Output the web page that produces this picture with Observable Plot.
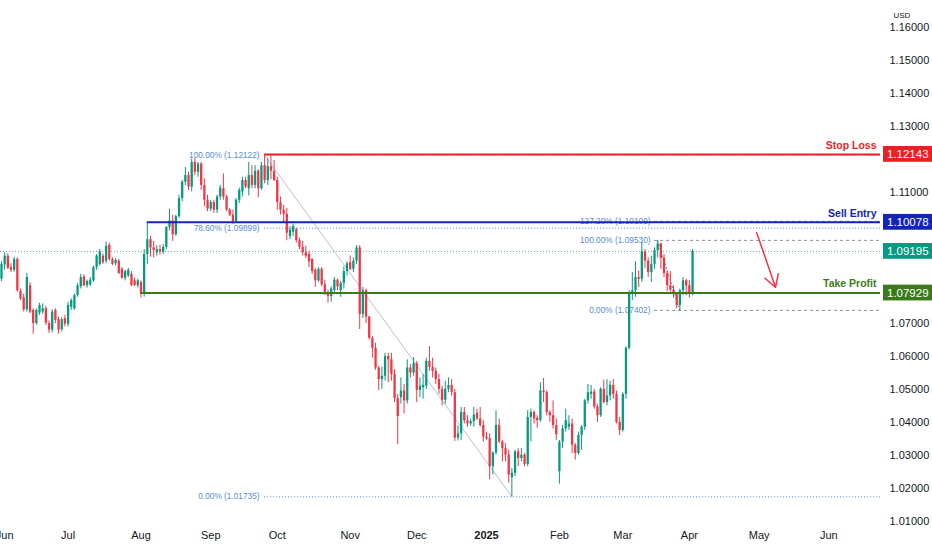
<!DOCTYPE html>
<html><head><meta charset="utf-8">
<script src="https://cdn.jsdelivr.net/npm/d3@7"></script>
<script src="https://cdn.jsdelivr.net/npm/@observablehq/plot@0.6"></script>
<style>body{margin:0;background:#fff;}</style>
</head><body><div id="chart"></div>
<script>
// Daily EUR/USD candles, bar index 0 = 31 May 2024 ... 218 = 2 Apr 2025
const opens=[1.0835,1.0878,1.0905,1.0870,1.0862,1.0895,1.0798,1.0778,1.0742,1.0815,1.0740,1.0700,1.0732,1.0735,1.0745,1.0700,1.0680,1.0740,1.0712,1.0682,1.0715,1.0698,1.0750,1.0745,1.0785,1.0812,1.0842,1.0815,1.0818,1.0830,1.0870,1.0880,1.0905,1.0890,1.0938,1.0895,1.0882,1.0890,1.0865,1.0838,1.0845,1.0850,1.0830,1.0815,1.0825,1.0790,1.0910,1.0955,1.0930,1.0915,1.0925,1.0917,1.0932,1.0992,1.1012,1.0970,1.1025,1.1080,1.1130,1.1150,1.1115,1.1190,1.1160,1.1185,1.1120,1.1075,1.1048,1.1068,1.1045,1.1085,1.1110,1.1085,1.1045,1.1030,1.1010,1.1075,1.1100,1.1135,1.1110,1.1150,1.1120,1.1163,1.1110,1.1180,1.1135,1.1177,1.1163,1.1135,1.1068,1.1045,1.1032,1.0965,1.0978,1.0985,1.0952,1.0932,1.0915,1.0910,1.0895,1.0862,1.0830,1.0865,1.0818,1.0795,1.0782,1.0800,1.0832,1.0800,1.0822,1.0858,1.0885,1.0865,1.0890,1.0930,1.0728,1.0800,1.0720,1.0655,1.0625,1.0565,1.0530,1.0540,1.0600,1.0590,1.0545,1.0472,1.0475,1.0495,1.0465,1.0565,1.0550,1.0578,1.0497,1.0505,1.0510,1.0585,1.0567,1.0555,1.0530,1.0500,1.0467,1.0500,1.0512,1.0490,1.0352,1.0365,1.0430,1.0405,1.0395,1.0402,1.0428,1.0410,1.0390,1.0355,1.0350,1.0265,1.0307,1.0390,1.0340,1.0320,1.0300,1.0232,1.0245,1.0310,1.0290,1.0300,1.0272,1.0415,1.0430,1.0412,1.0405,1.0495,1.0490,1.0430,1.0420,1.0390,1.0250,1.0340,1.0380,1.0385,1.0395,1.0330,1.0305,1.0360,1.0385,1.0465,1.0485,1.0492,1.0447,1.0420,1.0500,1.0460,1.0480,1.0512,1.0485,1.0400,1.0375,1.0485,1.0625,1.0790,1.0800,1.0840,1.0835,1.0918,1.0890,1.0855,1.0880,1.0922,1.0942,1.0898,1.0852,1.0815,1.0802,1.0790,1.0755,1.0800,1.0830,1.0815,1.0792];
const highs=[1.0888,1.0915,1.0912,1.0882,1.0902,1.0900,1.0805,1.0790,1.0852,1.0825,1.0745,1.0745,1.0762,1.0760,1.0752,1.0708,1.0742,1.0745,1.0720,1.0718,1.0725,1.0765,1.0775,1.0790,1.0822,1.0850,1.0848,1.0832,1.0840,1.0875,1.0910,1.0925,1.0912,1.0948,1.0945,1.0900,1.0898,1.0895,1.0870,1.0862,1.0868,1.0858,1.0838,1.0835,1.0830,1.0925,1.1008,1.0965,1.0950,1.0937,1.0938,1.0940,1.0995,1.1048,1.1030,1.1030,1.1090,1.1135,1.1175,1.1160,1.1200,1.1202,1.1190,1.1190,1.1140,1.1090,1.1075,1.1075,1.1090,1.1120,1.1155,1.1090,1.1050,1.1045,1.1080,1.1112,1.1145,1.1145,1.1190,1.1180,1.1180,1.1168,1.1190,1.12122,1.1202,1.1210,1.1196,1.1145,1.1085,1.1060,1.1050,1.0995,1.1002,1.0990,1.0960,1.0950,1.0935,1.0920,1.0898,1.0868,1.0870,1.0870,1.0832,1.0802,1.0812,1.0840,1.0835,1.0828,1.0872,1.0888,1.0905,1.0900,1.0937,1.0937,1.0810,1.0805,1.0722,1.0660,1.0640,1.0570,1.0568,1.0610,1.0610,1.0610,1.0560,1.0485,1.0535,1.0515,1.0590,1.0575,1.0597,1.0585,1.0535,1.0545,1.0595,1.0630,1.0595,1.0565,1.0545,1.0510,1.0525,1.0535,1.0530,1.0500,1.0390,1.0445,1.0445,1.0420,1.0410,1.0445,1.0440,1.0445,1.0405,1.0368,1.0365,1.0310,1.0435,1.0410,1.0345,1.0335,1.0315,1.0260,1.0315,1.0320,1.0320,1.0305,1.0435,1.0440,1.0435,1.0420,1.0520,1.0533,1.0495,1.0435,1.0465,1.0410,1.0345,1.0390,1.0440,1.0420,1.0410,1.0335,1.0370,1.0390,1.0470,1.0515,1.0512,1.0500,1.0455,1.0505,1.0528,1.0530,1.0525,1.0530,1.0495,1.0415,1.0490,1.0630,1.0800,1.0855,1.0888,1.0860,1.0947,1.0925,1.0900,1.0905,1.0930,1.0953,1.0945,1.0910,1.0860,1.0858,1.0815,1.0795,1.0805,1.0840,1.0835,1.0830,1.0925];
const lows=[1.0828,1.0862,1.0865,1.0855,1.0856,1.0795,1.0770,1.0735,1.0735,1.0730,1.0668,1.0695,1.0725,1.0728,1.0695,1.0670,1.0672,1.0700,1.0668,1.0675,1.0690,1.0690,1.0740,1.0740,1.0780,1.0805,1.0812,1.0808,1.0812,1.0825,1.0862,1.0875,1.0880,1.0882,1.0890,1.0876,1.0875,1.0850,1.0835,1.0830,1.0840,1.0812,1.0812,1.0808,1.0778,1.0780,1.0880,1.0902,1.0900,1.0905,1.0908,1.0910,1.0925,1.0982,1.0950,1.0965,1.1020,1.1070,1.1120,1.1105,1.1100,1.1150,1.1145,1.1105,1.1055,1.1040,1.1040,1.1035,1.1035,1.1075,1.1075,1.1040,1.1025,1.1002,1.1005,1.1065,1.1085,1.1110,1.1088,1.1110,1.1110,1.1082,1.1105,1.1125,1.1120,1.1138,1.1132,1.1045,1.1030,1.1005,1.0952,1.0955,1.0965,1.0945,1.0925,1.0905,1.0898,1.0870,1.0850,1.0810,1.0825,1.0812,1.0785,1.0762,1.0765,1.0790,1.0800,1.0780,1.0805,1.0845,1.0860,1.0855,1.0880,1.0682,1.0715,1.0700,1.0650,1.0595,1.0558,1.0496,1.0500,1.0525,1.0520,1.0525,1.0460,1.0332,1.0455,1.0425,1.0455,1.0535,1.0540,1.0460,1.0475,1.0470,1.0500,1.0555,1.0535,1.0515,1.0485,1.0450,1.0455,1.0490,1.0480,1.0342,1.0343,1.0345,1.0395,1.0385,1.0388,1.0385,1.0405,1.0385,1.0340,1.0345,1.0225,1.0240,1.0300,1.0335,1.0280,1.0280,1.0215,1.01735,1.0235,1.0265,1.0280,1.0265,1.0265,1.0340,1.0395,1.0382,1.0400,1.0460,1.0420,1.0400,1.0380,1.0345,1.0212,1.0320,1.0370,1.0375,1.0305,1.0285,1.0300,1.0315,1.0375,1.0455,1.0470,1.0440,1.0400,1.0415,1.0455,1.0450,1.0465,1.0470,1.0395,1.0360,1.0370,1.0470,1.0620,1.0770,1.0780,1.0810,1.0825,1.0868,1.0840,1.0825,1.0865,1.0900,1.0865,1.0840,1.0797,1.0795,1.0777,1.0745,1.07402,1.0785,1.0785,1.0778,1.0785];
const closes=[1.0880,1.0905,1.0868,1.0862,1.0895,1.0800,1.0775,1.0742,1.0840,1.0735,1.0700,1.0740,1.0755,1.0745,1.0702,1.0680,1.0735,1.0710,1.0680,1.0712,1.0698,1.0755,1.0770,1.0785,1.0815,1.0840,1.0815,1.0828,1.0832,1.0870,1.0905,1.0918,1.0885,1.0935,1.0895,1.0880,1.0892,1.0852,1.0838,1.0858,1.0862,1.0816,1.0816,1.0830,1.0790,1.0910,1.0955,1.0930,1.0922,1.0925,1.0917,1.0932,1.0992,1.1012,1.0970,1.1025,1.1080,1.1130,1.1150,1.1115,1.1190,1.1160,1.1185,1.1120,1.1075,1.1048,1.1068,1.1045,1.1085,1.1112,1.1085,1.1045,1.1030,1.1010,1.1075,1.1105,1.1135,1.1115,1.1150,1.1120,1.1163,1.1110,1.1180,1.1135,1.1177,1.1163,1.1135,1.1068,1.1045,1.1032,1.0975,1.0985,1.0995,1.0952,1.0932,1.0915,1.0905,1.0888,1.0858,1.0830,1.0865,1.0818,1.0795,1.0782,1.0805,1.0832,1.0812,1.0822,1.0858,1.0882,1.0865,1.0890,1.0930,1.0728,1.0800,1.0720,1.0655,1.0625,1.0565,1.0530,1.0540,1.0600,1.0590,1.0545,1.0472,1.0418,1.0495,1.0465,1.0565,1.0550,1.0578,1.0497,1.0510,1.0512,1.0585,1.0567,1.0555,1.0530,1.0500,1.0467,1.0500,1.0512,1.0490,1.0352,1.0365,1.0430,1.0405,1.0395,1.0402,1.0422,1.0410,1.0390,1.0355,1.0350,1.0265,1.0307,1.0390,1.0340,1.0320,1.0300,1.0240,1.0245,1.0310,1.0290,1.0300,1.0272,1.0415,1.0430,1.0410,1.0405,1.0495,1.0490,1.0430,1.0420,1.0390,1.0362,1.0340,1.0380,1.0405,1.0395,1.0330,1.0305,1.0360,1.0385,1.0465,1.0490,1.0492,1.0447,1.0420,1.0500,1.0460,1.0480,1.0512,1.0485,1.0400,1.0375,1.0485,1.0625,1.0790,1.0800,1.0840,1.0835,1.0918,1.0890,1.0855,1.0880,1.0922,1.0942,1.0898,1.0852,1.0815,1.0802,1.0790,1.0755,1.0800,1.0830,1.0815,1.0792,1.09195];

const monthLabels=["Jun","Jul","Aug","Sep","Oct","Nov","Dec","2025","Feb","Mar","Apr","May","Jun"];
const monthBars=[1,21,44,66,87,110,131,153,176,196,217,239,261];
const priceTicks=[1.01,1.02,1.03,1.04,1.05,1.06,1.07,1.08,1.09,1.10,1.11,1.12,1.13,1.14,1.15,1.16];

const levelNames=["Stop Loss","Sell Entry","Take Profit"];
const levelPrices=[1.12143,1.10078,1.07929];
const levelStartBars=[83,46,44];
const levelColors=["#f01e23","#1424b4","#3b7a1a"];
const lastPrice=1.09195;

const fib1Bars=[83,161];
const fib1Prices=[1.12122,1.01735];
const fib1Ratios=[1,0.786,0];
const fib2Bars=[207,214];
const fib2Prices=[1.0953,1.07402];
const fib2Ratios=[1.272,1,0];

const arrowBars=[238.2,244.2];
const arrowPrices=[1.0977,1.0810];

const UP="#089981", DOWN="#f23645";
const X0=-0.315, X1=277.29;

const bars=closes.map((c,i)=>({i,open:opens[i],high:highs[i],low:lows[i],close:c,color:c>=opens[i]?UP:DOWN}));
const levels=levelNames.map((n,k)=>({name:n,price:levelPrices[k],start:levelStartBars[k],end:X1,color:levelColors[k]}));
levels.push({name:"",price:lastPrice,start:X1,end:X1,color:UP});
const fibRows=(b,p,r)=>r.map(q=>{const price=p[1]+q*(p[0]-p[1]);return {price,start:b[0],end:X1,label:`${(q*100).toFixed(2)}% (${price.toFixed(5)})`};});
const fib1=fibRows(fib1Bars,fib1Prices,fib1Ratios);
const fib2=fibRows(fib2Bars,fib2Prices,fib2Ratios);
const months=monthLabels.map((l,k)=>({label:l,bar:monthBars[k]}));
const boxH=0.0024;
// price labels hidden behind the coloured price boxes are not drawn
const visibleTicks=priceTicks.filter(t=>levels.every(l=>Math.abs(l.price-t)>0.004));

const plot=Plot.plot({
  width:932,height:550,marginLeft:0,marginRight:52,marginTop:0,marginBottom:22,
  style:{fontFamily:"'Liberation Sans', Arial, sans-serif",background:"#fff"},
  x:{domain:[X0,X1],axis:null},
  y:{domain:[1.00772,1.16821],axis:null},
  marks:[
    Plot.ruleY([lastPrice],{stroke:UP,strokeDasharray:"1,2",strokeWidth:1,strokeOpacity:0.7}),
    Plot.ruleY(fib1,{y:"price",x1:"start",x2:"end",stroke:"#5b8bd0",strokeDasharray:"1,2",strokeWidth:1}),
    Plot.link([0],{x1:()=>fib1Bars[0],y1:()=>fib1Prices[0],x2:()=>fib1Bars[1],y2:()=>fib1Prices[1],stroke:"#9db3d3",strokeWidth:0.8}),
    Plot.text(fib1,{x:"start",y:"price",text:"label",textAnchor:"end",dx:-5,fill:"#5b8bd0",fontSize:8.3}),
    Plot.ruleY(fib2,{y:"price",x1:d=>d.start-1,x2:"end",stroke:"#8c8f99",strokeDasharray:"3,3",strokeWidth:1}),
    Plot.link([0],{x1:()=>fib2Bars[0],y1:()=>fib2Prices[0],x2:()=>fib2Bars[1],y2:()=>fib2Prices[1],stroke:"#555",strokeDasharray:"2,2",strokeWidth:0.8}),
    Plot.text(fib2,{x:d=>d.start-1,y:"price",text:"label",textAnchor:"end",dx:-4,fill:"#5b8bd0",fontSize:8.3}),
    Plot.ruleX(bars,{x:"i",y1:"low",y2:"high",stroke:"color",strokeWidth:1}),
    Plot.ruleX(bars,{x:"i",y1:"open",y2:"close",stroke:"color",strokeWidth:2.3}),
    Plot.ruleY(levels.slice(0,3),{y:"price",x1:"start",x2:"end",stroke:"color",strokeWidth:2}),
    Plot.arrow([0],{x1:()=>arrowBars[0],y1:()=>arrowPrices[0],x2:()=>arrowBars[1],y2:()=>arrowPrices[1],stroke:DOWN,strokeWidth:1.5,headLength:14}),
    Plot.text(levels.slice(0,3),{y:"price",frameAnchor:"right",dx:-4,dy:-9,text:"name",fill:"color",textAnchor:"end",fontWeight:"bold",fontSize:10.5}),
    Plot.text(visibleTicks,{y:d=>d,frameAnchor:"right",dx:9,textAnchor:"start",text:d=>d.toFixed(5),fontSize:11,fill:"#131722"}),
    Plot.rect(levels,{x1:X1+0.95,x2:X1+16.5,y1:d=>d.price-boxH,y2:d=>d.price+boxH,fill:"color"}),
    Plot.text(levels,{x:X1+8.6,y:"price",text:d=>d.price.toFixed(5),fill:"white",fontSize:11.5}),
    Plot.text(months.filter(d=>d.label!=="2025"),{x:"bar",frameAnchor:"bottom",dy:10,text:"label",fontSize:11,fill:"#131722"}),
    Plot.text(months.filter(d=>d.label==="2025"),{x:"bar",frameAnchor:"bottom",dy:10,text:"label",fontSize:11,fontWeight:"bold",fill:"#131722"}),
    Plot.text(["USD"],{frameAnchor:"top-right",dx:13,dy:12,textAnchor:"start",text:d=>d,fontSize:8,fill:"#131722"})
  ]
});
document.getElementById("chart").appendChild(plot);
</script>
</body></html>
